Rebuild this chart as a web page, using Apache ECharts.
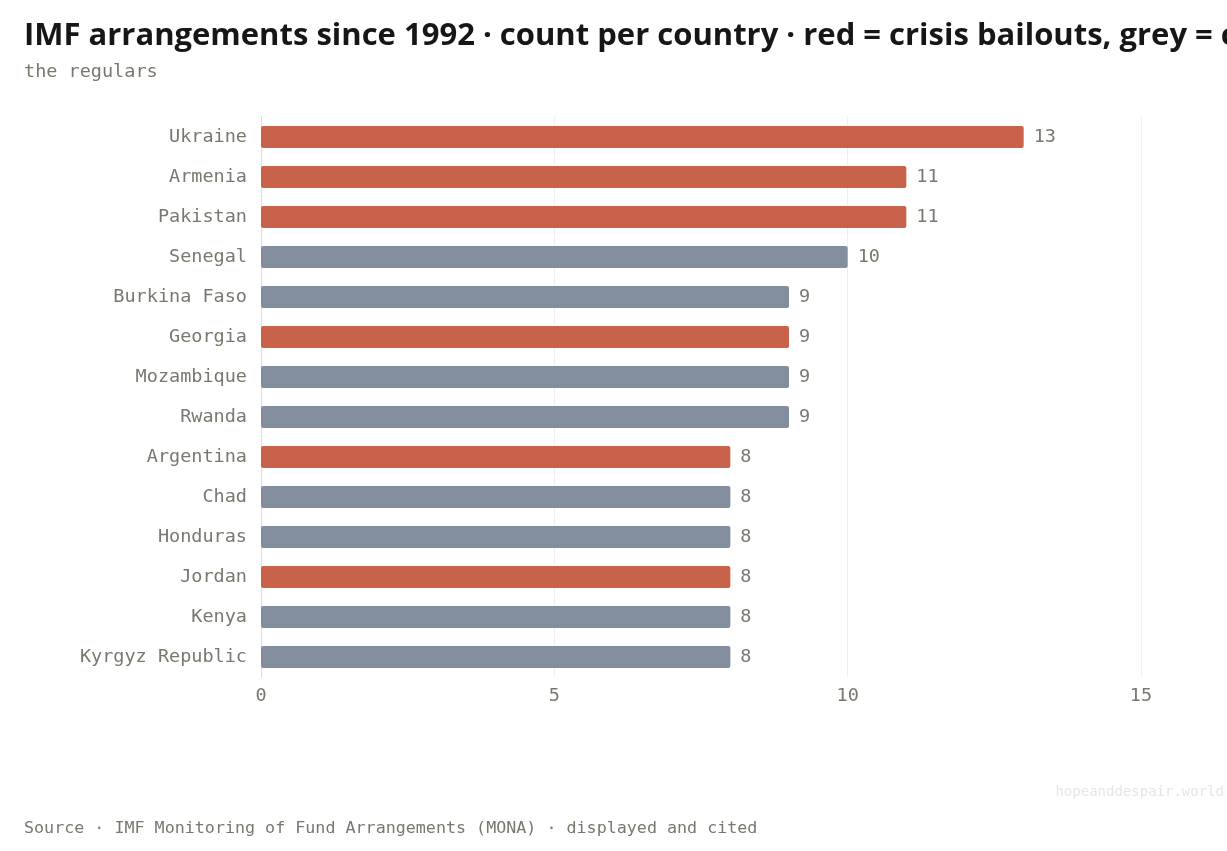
<!DOCTYPE html>
<html>
<head>
<meta charset="utf-8">
<style>
  html, body { margin: 0; padding: 0; background: #fff; }
  #chart { width: 1227px; height: 851px; }
</style>
<script src="https://cdn.jsdelivr.net/npm/echarts@6/dist/echarts.min.js"></script>
</head>
<body>
<div id="chart"></div>
<script>
// data
const countries = ['Ukraine', 'Armenia', 'Pakistan', 'Senegal', 'Burkina Faso', 'Georgia', 'Mozambique',
  'Rwanda', 'Argentina', 'Chad', 'Honduras', 'Jordan', 'Kenya', 'Kyrgyz Republic'];
const counts = [13, 11, 11, 10, 9, 9, 9, 9, 8, 8, 8, 8, 8, 8];
// true = crisis bailout (red), false = grey
const crisis = [true, true, true, false, false, true, false, false, true, false, false, true, false, false];
const xTicks = [0, 5, 10, 15];

const RED = '#c8624a';
const GREY = '#828e9e';
const MONO = '"DejaVu Sans Mono", monospace';
const TEXT = '#7a776e';

const chart = echarts.init(document.getElementById('chart'));

chart.setOption({
  backgroundColor: '#fff',
  animation: false,
  title: [
    {
      text: 'IMF arrangements since 1992 · count per country · red = crisis bailouts, grey = concessional lending',
      left: 24, top: 21, padding: 0,
      textStyle: { fontFamily: '"Open Sans", "Noto Sans", sans-serif', fontWeight: 'bold', fontSize: 31, color: '#161616' }
    },
    {
      text: 'the regulars',
      left: 24, top: 63, padding: 0,
      textStyle: { fontFamily: MONO, fontWeight: 'normal', fontSize: 18.5, color: TEXT }
    }
  ],
  graphic: [
    {
      type: 'text', left: 24, top: 820,
      style: { text: 'Source · IMF Monitoring of Fund Arrangements (MONA) · displayed and cited',
        font: '16.7px ' + MONO, fill: TEXT }
    },
    {
      type: 'text', right: 3, top: 785,
      style: { text: 'hopeanddespair.world', font: '14px ' + MONO, fill: '#e6e6e6' }
    }
  ],
  grid: { left: 261, right: 86, top: 117, bottom: 174, containLabel: false },
  xAxis: {
    type: 'value',
    min: xTicks[0], max: xTicks[xTicks.length - 1], interval: 5,
    axisLine: { show: false },
    axisTick: { show: false },
    splitLine: { show: true, lineStyle: { color: '#efefef', width: 1 } },
    axisLabel: { fontFamily: MONO, fontSize: 18.5, color: TEXT, margin: 10 }
  },
  yAxis: {
    type: 'category',
    data: countries,
    inverse: true,
    axisLine: { show: true, lineStyle: { color: '#dddddd' } },
    axisTick: { show: false },
    axisLabel: { fontFamily: MONO, fontSize: 18.5, color: TEXT, margin: 14 }
  },
  series: [{
    type: 'bar',
    barWidth: 22,
    data: counts.map((v, i) => ({
      value: v,
      itemStyle: { color: crisis[i] ? RED : GREY, borderRadius: 2 }
    })),
    label: {
      show: true, position: 'right', distance: 10,
      fontFamily: MONO, fontSize: 18.5, color: TEXT
    }
  }]
});
</script>
</body>
</html>
